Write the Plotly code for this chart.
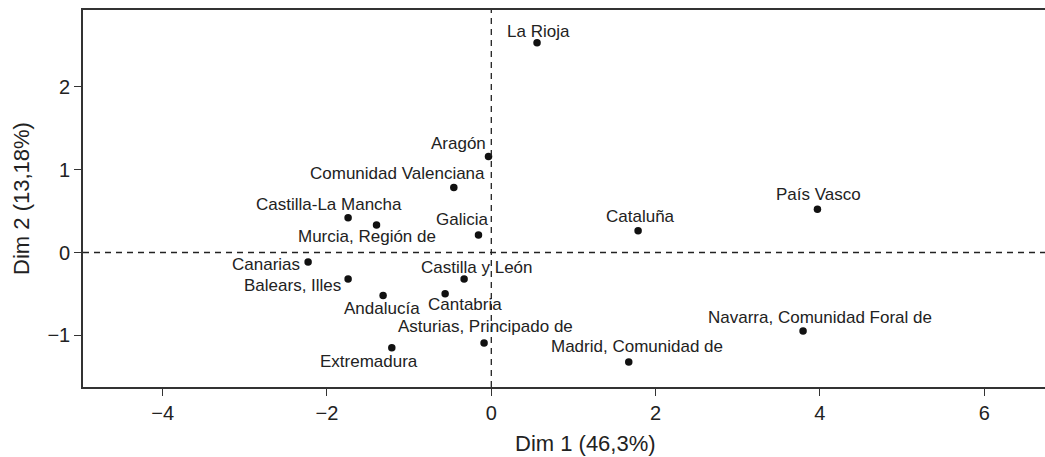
import plotly.graph_objects as go

regions = ["La Rioja", "Aragón", "Comunidad Valenciana", "Castilla-La Mancha",
           "Murcia, Región de", "Galicia", "Cataluña", "País Vasco", "Canarias",
           "Balears, Illes", "Castilla y León", "Andalucía", "Cantabria",
           "Asturias, Principado de", "Extremadura", "Madrid, Comunidad de",
           "Navarra, Comunidad Foral de"]
dim1 = [0.557, -0.034, -0.456, -1.743, -1.397, -0.156, 1.787, 3.97, -2.23,
        -1.743, -0.331, -1.317, -0.562, -0.088, -1.211, 1.673, 3.795]
dim2 = [2.533, 1.16, 0.785, 0.421, 0.333, 0.212, 0.264, 0.523, -0.115,
        -0.32, -0.32, -0.518, -0.499, -1.092, -1.152, -1.322, -0.947]

# label offsets in pixels (style): dx right, dy down
label_dx = [1.4, -29.9, -56.5, -19.1, -9.2, -16.2, 2, 1, -42.5, -56, 13.2, -0.8, 19.5, 1.5, -23.3, 8, 17]
label_dy = [-11.6, -13.4, -14.4, -12.7, 11.7, -15, -14, -14.3, 2.3, 7, -11.7, 13, 10.3, -16, 14, -15, -13.4]

xticks = [-4, -2, 0, 2, 4, 6]
yticks = [-1, 0, 1, 2]

txt_color = "#222222"
fig = go.Figure()
fig.add_trace(go.Scatter(x=dim1, y=dim2, mode="markers",
                         marker=dict(color="#111111", size=7.5),
                         hoverinfo="text", text=regions, showlegend=False))

for name, x, y, dx, dy in zip(regions, dim1, dim2, label_dx, label_dy):
    fig.add_annotation(x=x, y=y, text=name, showarrow=False, xshift=dx, yshift=-dy,
                       font=dict(family="Liberation Sans, Arial", size=17, color=txt_color),
                       xanchor="center", yanchor="middle")

# reference lines
fig.add_shape(type="line", xref="x", yref="paper", x0=0, x1=0, y0=0, y1=1,
              line=dict(color="#222222", width=1.3, dash="6px,5px"))
fig.add_shape(type="line", xref="paper", yref="y", x0=0, x1=1, y0=0, y1=0,
              line=dict(color="#222222", width=1.3, dash="6px,5px"))

# x axis title (plot region continues beyond the visible right edge)
fig.add_annotation(xref="paper", yref="paper", x=(585.8 - 83) / (1045 - 83), y=0,
                   yshift=-56, text="Dim 1 (46,3%)", showarrow=False,
                   xanchor="center", yanchor="middle",
                   font=dict(family="Liberation Sans, Arial", size=22, color=txt_color))

fig.update_layout(
    width=1045, height=457,
    margin=dict(l=83, r=0, t=10, b=70),
    plot_bgcolor="white", paper_bgcolor="white",
    font=dict(family="Liberation Sans, Arial", color=txt_color),
    xaxis=dict(range=[-4.97, 6.74], tickvals=xticks, ticktext=[str(v).replace("-", "\u2212") for v in xticks],
               showgrid=False, zeroline=False, showline=True, mirror=True,
               linecolor="#333333", linewidth=1.6, ticks="outside", ticklen=7,
               tickwidth=1.2, tickcolor="#333333", tickfont=dict(size=20)),
    yaxis=dict(range=[-1.625, 2.93], tickvals=yticks, ticktext=[str(v).replace("-", "\u2212") for v in yticks],
               showgrid=False, zeroline=False, showline=True, mirror=False,
               linecolor="#333333", linewidth=1.6, ticks="outside", ticklen=7,
               tickwidth=1.2, tickcolor="#333333", tickfont=dict(size=20),
               title=dict(text="Dim 2 (13,18%)", font=dict(size=22), standoff=12)),
)

fig.write_html("out.html", config={"displayModeBar": False},
               post_script="document.body.style.margin='0';document.body.style.overflow='hidden';")
